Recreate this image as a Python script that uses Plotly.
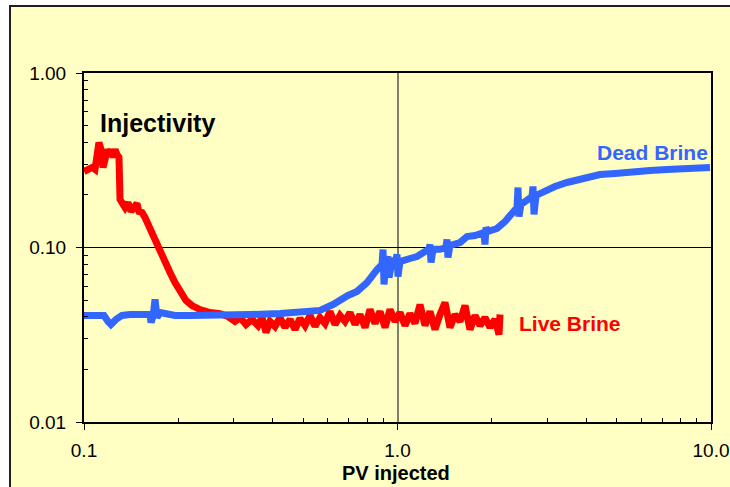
import plotly.graph_objects as go

# Live Brine (red)
live_x = [0.1, 0.1030, 0.1061, 0.1084, 0.1100, 0.1116, 0.1133, 0.1150, 0.1167, 0.1184,
          0.1201, 0.1219, 0.1237, 0.1256, 0.1274, 0.1293, 0.1303, 0.1322, 0.1352, 0.1382,
          0.1412, 0.1443, 0.1476, 0.1497, 0.1531, 0.1565, 0.1600, 0.1648, 0.1697, 0.1747,
          0.1813, 0.1881, 0.1951, 0.2024, 0.2115, 0.2211, 0.2344, 0.2523, 0.2716, 0.2880,
          0.3032, 0.3146, 0.3287, 0.3435, 0.3589, 0.3696, 0.3806, 0.3920, 0.4067, 0.4219,
          0.4377, 0.4541, 0.4710, 0.4887, 0.5070, 0.5259, 0.5456, 0.5660, 0.5872, 0.6092,
          0.6319, 0.6556, 0.6801, 0.7056, 0.7320, 0.7594, 0.7878, 0.8172, 0.8478, 0.8796,
          0.9125, 0.9465, 0.9818, 1.0185, 1.0566, 1.0961, 1.1371, 1.1797, 1.2238, 1.2696,
          1.3171, 1.3664, 1.4175, 1.4705, 1.5255, 1.5826, 1.6418, 1.7032, 1.767, 1.833,
          1.901, 1.973, 2.046, 2.108, 2.123]
live_y = [0.2726, 0.2799, 0.2874, 0.2799, 0.3194, 0.4000, 0.3644, 0.2874, 0.3194, 0.3644,
          0.3412, 0.3644, 0.3280, 0.3644, 0.3412, 0.3280, 0.1884, 0.1764, 0.1695, 0.1811,
          0.1608, 0.1695, 0.1787, 0.1608, 0.1587, 0.1486, 0.1354, 0.1203, 0.1082, 0.0949,
          0.0831, 0.0719, 0.0630, 0.0560, 0.0497, 0.0465, 0.0441, 0.0424, 0.0418, 0.0402,
          0.0377, 0.0397, 0.0362, 0.0387, 0.0357, 0.0397, 0.0326, 0.0377, 0.0353, 0.0397,
          0.0348, 0.0387, 0.0339, 0.0392, 0.0357, 0.0408, 0.0353, 0.0397, 0.0367, 0.0430,
          0.0362, 0.0408, 0.0377, 0.0424, 0.0362, 0.0413, 0.0348, 0.0441, 0.0367, 0.0430,
          0.0348, 0.0441, 0.0377, 0.0424, 0.0357, 0.0418, 0.0367, 0.0471, 0.0357, 0.0430,
          0.0339, 0.0413, 0.0484, 0.0348, 0.0413, 0.0377, 0.0465, 0.0339, 0.0408, 0.0357,
          0.0397, 0.0348, 0.0387, 0.0317, 0.0413]

# Dead Brine (blue)
dead_x = [0.1, 0.1084, 0.1158, 0.1193, 0.1219, 0.1265, 0.1322, 0.1402, 0.1565, 0.1624,
          0.1636, 0.1660, 0.1685, 0.1710, 0.1747, 0.1853, 0.1951, 0.2178, 0.2716, 0.3385,
          0.4219, 0.4887, 0.5660, 0.6226, 0.6556, 0.6952, 0.7427, 0.7993, 0.8603, 0.8924,
          0.8990, 0.9056, 0.9190, 0.9326, 0.9395, 0.9603, 0.9890, 0.9963, 1.0037, 1.0185,
          1.0961, 1.1538, 1.2238, 1.2600, 1.2696, 1.2792, 1.2982, 1.3664, 1.4274, 1.4379,
          1.4485, 1.4705, 1.5826, 1.6665, 1.767, 1.8874, 1.901, 1.9154, 1.9437, 2.0771,
          2.2026, 2.3186, 2.4052, 2.4230, 2.4408, 2.4769, 2.6077, 2.6855, 2.7053, 2.7253,
          2.7657, 2.9115, 3.1795, 3.4728, 3.8198, 4.4245, 4.9394, 5.6378, 6.3898, 7.2387,
          8.5719, 9.9268]
dead_y = [0.0408, 0.0408, 0.0408, 0.0377, 0.0362, 0.0387, 0.0408, 0.0413, 0.0413, 0.0413,
          0.0372, 0.0402, 0.0504, 0.0397, 0.0424, 0.0418, 0.0408, 0.0408, 0.0408, 0.0413,
          0.0418, 0.0424, 0.0436, 0.0471, 0.0504, 0.0531, 0.0560, 0.0630, 0.0748, 0.0799,
          0.0974, 0.0614, 0.0810, 0.0888, 0.0673, 0.0831, 0.0854, 0.0912, 0.0682, 0.0831,
          0.0865, 0.0888, 0.0949, 0.0977, 0.1040, 0.0821, 0.0977, 0.0977, 0.1000, 0.1111,
          0.0876, 0.1027, 0.1068, 0.1156, 0.1172, 0.1219, 0.1040, 0.1302, 0.1235, 0.1285,
          0.1409, 0.1587, 0.1695, 0.2207, 0.1505, 0.1764, 0.1884, 0.1960, 0.2237, 0.1546,
          0.1987, 0.2094, 0.2237, 0.2358, 0.2453, 0.2620, 0.2655, 0.2726, 0.2763, 0.2799,
          0.2836, 0.2874]

x_ticks = [0.1, 1.0, 10.0]
x_tick_text = ["0.1", "1.0", "10.0"]
y_ticks = [0.01, 0.1, 1.0]
y_tick_text = ["0.01", "0.10", "1.00"]
x_minor = [0.2, 0.3, 0.4, 0.5, 0.6, 0.7, 0.8, 0.9, 2, 3, 4, 5, 6, 7, 8, 9]
y_minor = [0.02, 0.03, 0.04, 0.05, 0.06, 0.07, 0.08, 0.09, 0.2, 0.3, 0.4, 0.5, 0.6, 0.7, 0.8, 0.9]

BG = "#FFFFC4"
RED = "#FF0000"
BLUE = "#3366FF"
FONT = "Liberation Sans, Arial, sans-serif"

fig = go.Figure()
fig.add_trace(go.Scatter(x=live_x, y=live_y, mode="lines",
                         line=dict(color=RED, width=7), showlegend=False))
fig.add_trace(go.Scatter(x=dead_x, y=dead_y, mode="lines",
                         line=dict(color=BLUE, width=7), showlegend=False))

fig.update_layout(
    width=730, height=487,
    margin=dict(l=84, r=19, t=73, b=65, autoexpand=False),
    paper_bgcolor="white",
    plot_bgcolor="rgba(0,0,0,0)",
    font=dict(family=FONT, color="black", size=19),
    showlegend=False,
)

fig.add_shape(type="rect", xref="paper", yref="paper",
              x0=-0.118, x1=1.2, y0=-0.4, y1=1.192,
              line=dict(color="#202020", width=2), fillcolor=BG, layer="below")

fig.update_xaxes(type="log", range=[-1, 1], tickvals=x_ticks, ticktext=x_tick_text,
                 showgrid=True, gridcolor="#7F7F6A", gridwidth=2, automargin=False,
                 showline=True, linecolor="black", linewidth=2, mirror=True,
                 ticks="outside", ticklen=6, tickcolor="black", ticklabelstandoff=4,
                 minor=dict(tickvals=x_minor, ticks="inside", ticklen=4, tickcolor="black",
                            showgrid=False),
                 zeroline=False, tickfont=dict(size=19))
fig.update_yaxes(type="log", range=[-2, 0], tickvals=y_ticks, ticktext=y_tick_text,
                 showgrid=True, gridcolor="black", gridwidth=1, automargin=False,
                 showline=True, linecolor="black", linewidth=2, mirror=True,
                 ticks="outside", ticklen=6, tickcolor="black", ticklabelstandoff=6,
                 minor=dict(tickvals=y_minor, ticks="inside", ticklen=4, tickcolor="black",
                            showgrid=False),
                 zeroline=False, tickfont=dict(size=19))

fig.add_annotation(text="<b>Injectivity</b>", xref="paper", yref="paper",
                   x=0.0223, y=0.857, xanchor="left", yanchor="middle", showarrow=False,
                   font=dict(size=25, color="black", family=FONT))
fig.add_annotation(text="<b>Dead Brine</b>", xref="paper", yref="paper",
                   x=0.999, y=0.771, xanchor="right", yanchor="middle", showarrow=False,
                   font=dict(size=21, color=BLUE, family=FONT))
fig.add_annotation(text="<b>Live Brine</b>", xref="paper", yref="paper",
                   x=0.6906, y=0.281, xanchor="left", yanchor="middle", showarrow=False,
                   font=dict(size=21, color=RED, family=FONT))
fig.add_annotation(text="<b>PV injected</b>", xref="paper", yref="paper",
                   x=0.4976, y=-0.146, xanchor="center", yanchor="middle", showarrow=False,
                   font=dict(size=20, color="black", family=FONT))

fig.write_html("out.html")
